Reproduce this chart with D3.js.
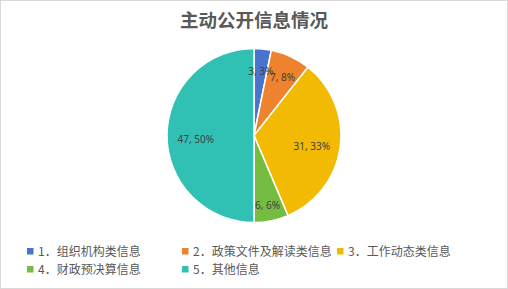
<!DOCTYPE html>
<html>
<head>
<meta charset="utf-8">
<script src="https://cdn.jsdelivr.net/npm/d3@7"></script>
<style>
  body { margin: 0; background: #fff; }
  svg { display: block; font-family: "Noto Sans CJK SC", "Noto Sans", sans-serif; }
</style>
</head>
<body>
<div class="chart"></div>
<script>
// data
const categories = ['1．组织机构类信息', '2．政策文件及解读类信息', '3．工作动态类信息', '4．财政预决算信息', '5．其他信息'];
const values = [3, 7, 31, 6, 47];
const percentLabels = ['3%', '8%', '33%', '6%', '50%'];
const colors = ['#4874CB', '#EE822F', '#F2BA02', '#75BD42', '#30C0B4'];
const title = '主动公开信息情况';

const width = 508, height = 289;
const cx = 254, cy = 135.5, r = 87;

const svg = d3.select('.chart')
  .append('svg')
  .attr('width', width)
  .attr('height', height);

// chart border
svg.append('rect')
  .attr('x', 0.5).attr('y', 0.5)
  .attr('width', width - 1).attr('height', height - 1)
  .style('fill', '#fff')
  .style('stroke', '#d9d9d9');

svg.append('text')
  .attr('x', width / 2)
  .attr('y', 27)
  .attr('text-anchor', 'middle')
  .style('font-size', '18.5px')
  .style('font-weight', 'bold')
  .style('fill', '#595959')
  .text(title);

const rows = categories.map((c, i) => ({ name: c, value: values[i], pct: percentLabels[i], color: colors[i] }));

const pie = d3.pie().sort(null).value(d => d.value);
const arcs = pie(rows);
const total = d3.sum(values);

const arc = d3.arc().innerRadius(0).outerRadius(r);

const g = svg.append('g').attr('transform', `translate(${cx},${cy})`);

g.selectAll('path')
  .data(arcs)
  .enter()
  .append('path')
  .attr('d', arc)
  .style('fill', d => d.data.color)
  .style('stroke', '#fff')
  .style('stroke-width', 1.5);

// small slices get their label nearer the rim
g.selectAll('text.lbl')
  .data(arcs)
  .enter()
  .append('text')
  .attr('class', 'lbl')
  .attr('transform', d => {
    const lr = d.data.value / total < 0.1 ? r * 0.78 : r * 0.67;
    const a = (d.startAngle + d.endAngle) / 2;
    return `translate(${Math.sin(a) * lr},${-Math.cos(a) * lr})`;
  })
  .attr('text-anchor', 'middle')
  .attr('dy', '0.7em')
  .style('font-family', '"Noto Sans", sans-serif')
  .style('font-size', '10px')
  .style('fill', '#404040')
  .text(d => d.data.value + ', ' + d.data.pct);

// legend
const legendX = d3.scaleOrdinal().domain([0, 1, 2]).range([27, 182, 337]);
const legendY = d3.scaleOrdinal().domain([0, 1]).range([251.5, 269.5]);

const leg = svg.selectAll('g.leg')
  .data(rows)
  .enter()
  .append('g')
  .attr('class', 'leg')
  .attr('transform', (d, i) => `translate(${legendX(i % 3)},${legendY(Math.floor(i / 3))})`);

leg.append('rect')
  .attr('x', 0).attr('y', -3.5)
  .attr('width', 6.5).attr('height', 6.5)
  .style('fill', d => d.color);

leg.append('text')
  .attr('x', 11)
  .attr('dy', '0.35em')
  .style('font-size', '12px')
  .style('fill', '#595959')
  .text(d => d.name);
</script>
</body>
</html>
